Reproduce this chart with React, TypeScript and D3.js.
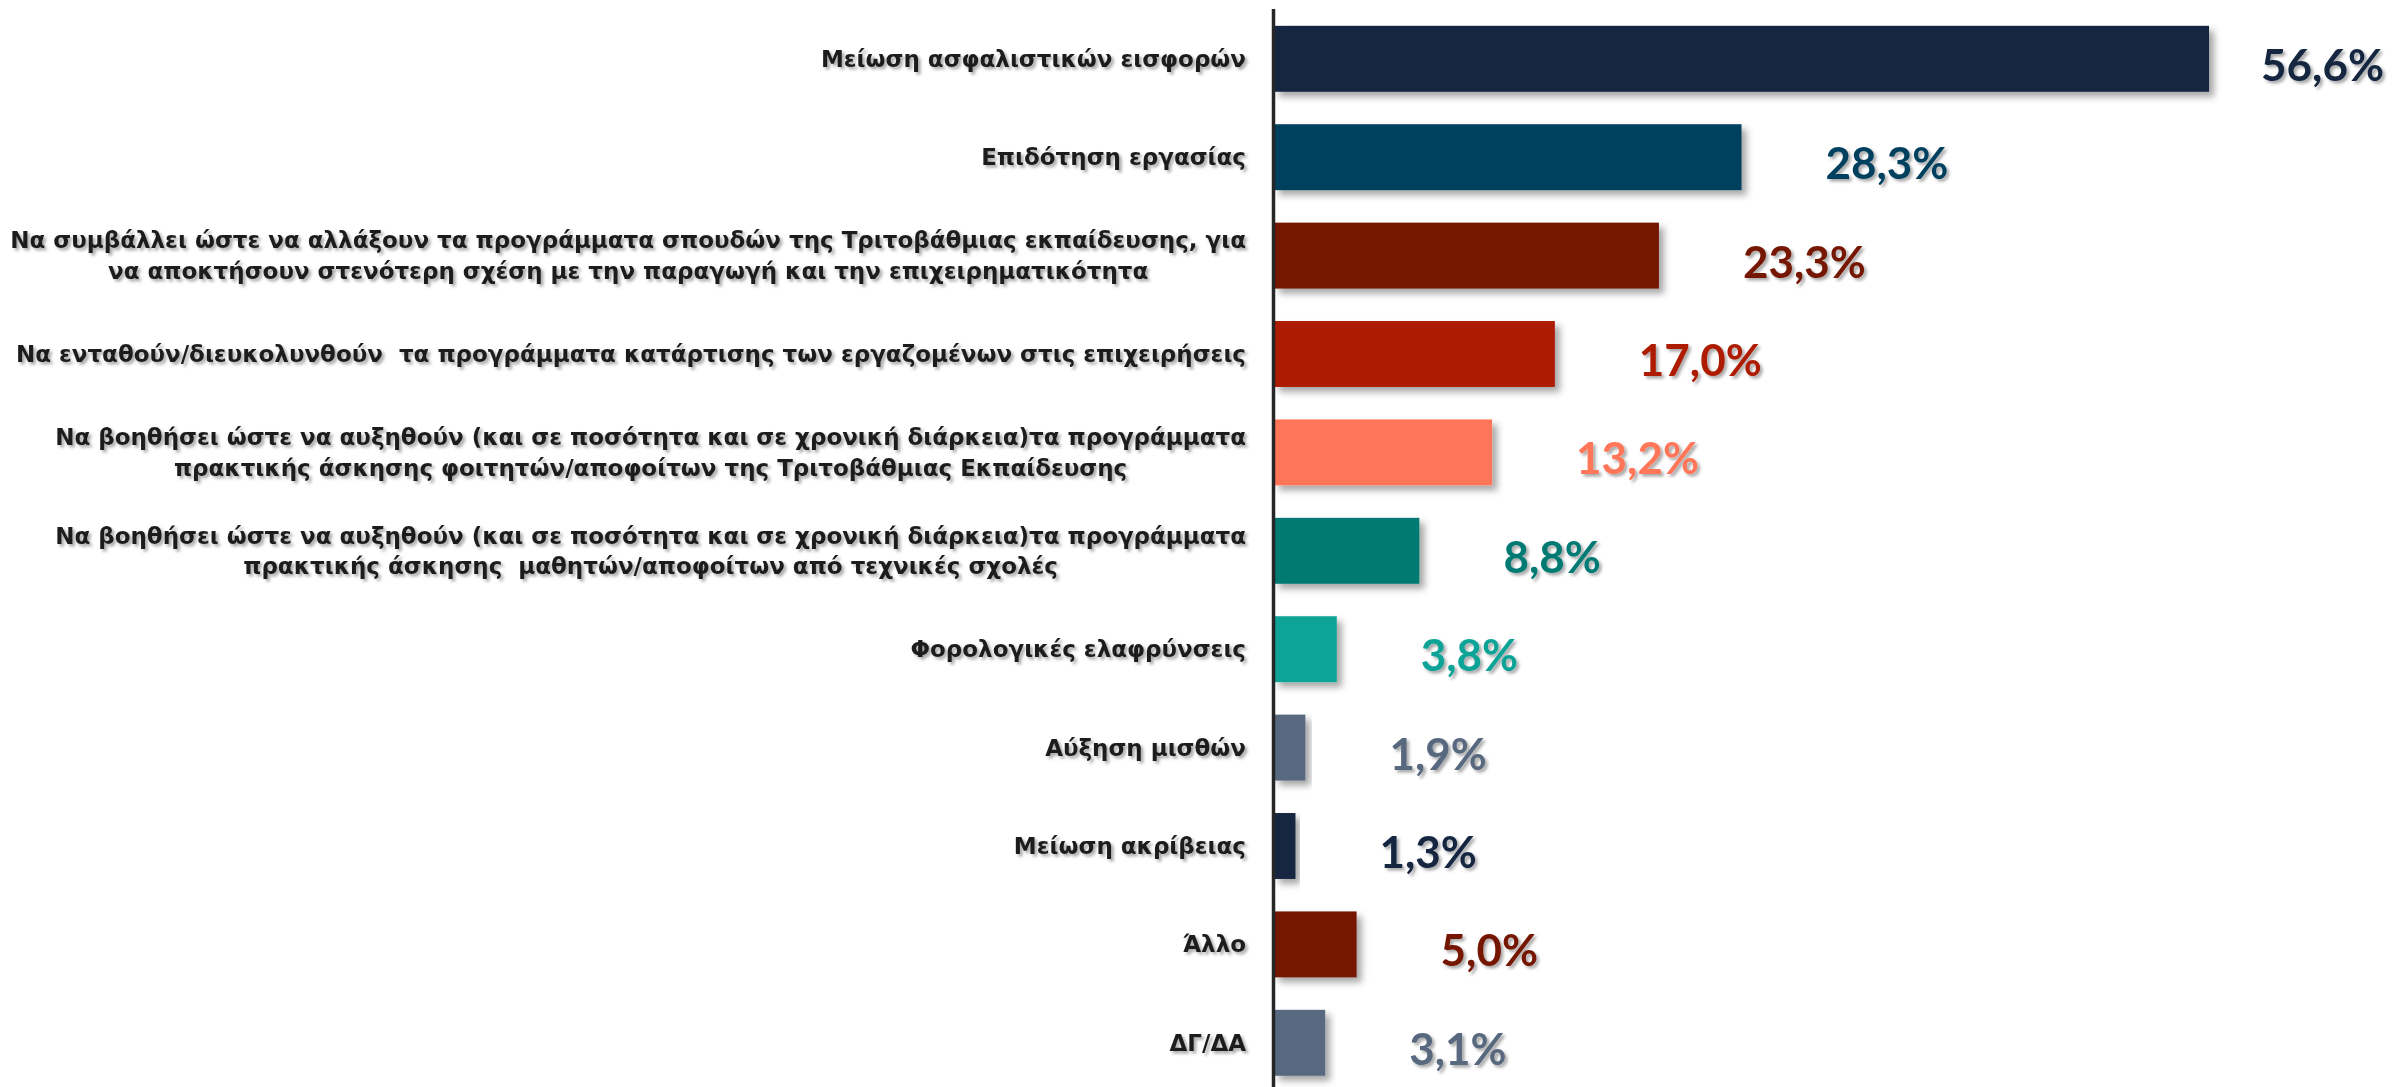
import React, { useEffect, useRef } from "react";
import * as d3 from "d3";

const categories: string[][] = [
  ["Μείωση ασφαλιστικών εισφορών"],
  ["Επιδότηση εργασίας"],
  [
    "Να συμβάλλει ώστε να αλλάξουν τα προγράμματα σπουδών της Τριτοβάθμιας εκπαίδευσης, για",
    "να αποκτήσουν στενότερη σχέση με την παραγωγή και την επιχειρηματικότητα",
  ],
  ["Να ενταθούν/διευκολυνθούν  τα προγράμματα κατάρτισης των εργαζομένων στις επιχειρήσεις"],
  [
    "Να βοηθήσει ώστε να αυξηθούν (και σε ποσότητα και σε χρονική διάρκεια)τα προγράμματα",
    "πρακτικής άσκησης φοιτητών/αποφοίτων της Τριτοβάθμιας Εκπαίδευσης",
  ],
  [
    "Να βοηθήσει ώστε να αυξηθούν (και σε ποσότητα και σε χρονική διάρκεια)τα προγράμματα",
    "πρακτικής άσκησης  μαθητών/αποφοίτων από τεχνικές σχολές",
  ],
  ["Φορολογικές ελαφρύνσεις"],
  ["Αύξηση μισθών"],
  ["Μείωση ακρίβειας"],
  ["Άλλο"],
  ["ΔΓ/ΔΑ"],
];

const values: number[] = [56.6, 28.3, 23.3, 17.0, 13.2, 8.8, 3.8, 1.9, 1.3, 5.0, 3.1];

const colors: string[] = [
  "#132641",
  "#053F5F",
  "#741400",
  "#AD1C02",
  "#FF7659",
  "#067A72",
  "#0BA396",
  "#58687E",
  "#132641",
  "#741400",
  "#58687E",
];

const W = 2394;
const H = 1087;

export default function App() {
  const ref = useRef<SVGSVGElement | null>(null);

  useEffect(() => {
    document.body.style.margin = "0";
    const svg = d3.select(ref.current!);
    svg.selectAll("*").remove();

    const defs = svg.append("defs");
    const fb = defs.append("filter").attr("id", "barShadow").attr("x", "-10%").attr("y", "-20%").attr("width", "130%").attr("height", "150%");
    fb.append("feDropShadow").attr("dx", 5).attr("dy", 5).attr("stdDeviation", 3.5).attr("flood-color", "#000").attr("flood-opacity", 0.35);
    const ft = defs.append("filter").attr("id", "textShadow").attr("x", "-5%").attr("y", "-20%").attr("width", "115%").attr("height", "160%");
    ft.append("feDropShadow").attr("dx", 2.5).attr("dy", 2.5).attr("stdDeviation", 1.5).attr("flood-color", "#000").attr("flood-opacity", 0.35);

    const idx = values.map((_, i) => i);
    const x = d3.scaleLinear().domain([0, 60]).range([1274, 1274 + 60 * 16.52]);
    const y = d3.scaleBand<number>().domain(idx).range([9.6, 9.6 + 11 * 98.4]).paddingInner(0.33).paddingOuter(0.165);

    // bars
    svg.append("g")
      .selectAll("rect")
      .data(idx)
      .join("rect")
      .attr("x", x(0))
      .attr("y", (i) => y(i)!)
      .attr("width", (i) => x(values[i]) - x(0))
      .attr("height", y.bandwidth())
      .attr("fill", (i) => colors[i])
      .attr("filter", "url(#barShadow)");

    // axis line
    svg.append("line")
      .attr("x1", 1273.5).attr("x2", 1273.5)
      .attr("y1", 9).attr("y2", H)
      .attr("stroke", "#262626").attr("stroke-width", 3.5);

    // category labels
    const labelRight = 1246;
    const lineH = 30.5;
    const gl = svg.append("g").attr("filter", "url(#textShadow)");
    idx.forEach((i) => {
      const lines = categories[i];
      const cy = y(i)! + y.bandwidth() / 2;
      const texts = lines.map((ln, k) =>
        gl.append("text")
          .text(ln)
          .attr("font-family", "'DejaVu Sans', sans-serif")
          .attr("font-weight", "bold")
          .attr("font-size", 23)
          .attr("fill", "#1f1f1f")
          .style("white-space", "pre")
          .attr("dominant-baseline", "central")
          .attr("y", cy + (k - (lines.length - 1) / 2) * lineH)
      );
      const widths = texts.map((t) => (t.node() as SVGTextElement).getComputedTextLength());
      const maxW = Math.max(...widths);
      texts.forEach((t) => {
        t.attr("text-anchor", "middle").attr("x", labelRight - maxW / 2);
      });
    });

    // value labels
    const gv = svg.append("g").attr("filter", "url(#textShadow)");
    idx.forEach((i) => {
      const cy = y(i)! + y.bandwidth() / 2 + 5;
      const t = gv.append("text")
        .text(d3.format(".1f")(values[i]).replace(".", ",") + "%")
        .attr("font-family", "Lato, sans-serif")
        .attr("font-weight", "bold")
        .attr("font-size", 44)
        .attr("fill", colors[i])
        .attr("dominant-baseline", "central")
        .attr("y", cy);
      const w = (t.node() as SVGTextElement).getComputedTextLength();
      const px = Math.min(x(values[i]) + 84, W - 10 - w);
      t.attr("x", px);
    });
  }, []);

  return <svg ref={ref} width={W} height={H} style={{ display: "block", background: "#fff" }} />;
}
